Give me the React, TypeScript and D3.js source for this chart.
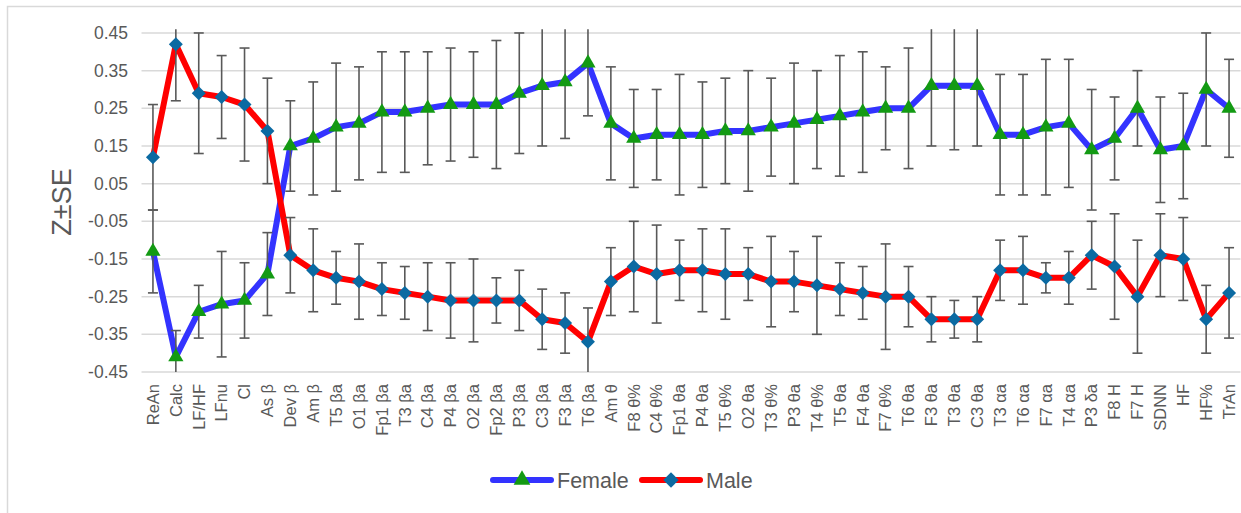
import React from "react";
import * as d3 from "d3";

const categories = [
  "ReAn", "Calc", "LF/HF", "LFnu", "Cl", "As β", "Dev β", "Am β", "T5 βa", "O1 βa",
  "Fp1 βa", "T3 βa", "C4 βa", "P4 βa", "O2 βa", "Fp2 βa", "P3 βa", "C3 βa", "F3 βa", "T6 βa",
  "Am θ", "F8 θ%", "C4 θ%", "Fp1 θa", "P4 θa", "T5 θ%", "O2 θa", "T3 θ%", "P3 θa", "T4 θ%",
  "T5 θa", "F4 θa", "F7 θ%", "T6 θa", "F3 θa", "T3 θa", "C3 θa", "T3 αa", "T6 αa", "F7 αa",
  "T4 αa", "P3 δa", "F8 H", "F7 H", "SDNN", "HF", "HF%", "TrAn",
];

const femaleValues = [
  -0.13, -0.41, -0.29, -0.27, -0.26, -0.19, 0.15, 0.17, 0.2, 0.21,
  0.24, 0.24, 0.25, 0.26, 0.26, 0.26, 0.29, 0.31, 0.32, 0.37,
  0.21, 0.17, 0.18, 0.18, 0.18, 0.19, 0.19, 0.2, 0.21, 0.22,
  0.23, 0.24, 0.25, 0.25, 0.31, 0.31, 0.31, 0.18, 0.18, 0.2,
  0.21, 0.14, 0.17, 0.25, 0.14, 0.15, 0.3, 0.25,
];
const femaleErrors = [
  0.11, 0.07, 0.07, 0.14, 0.1, 0.11, 0.12, 0.15, 0.17, 0.15,
  0.16, 0.16, 0.15, 0.15, 0.14, 0.17, 0.16, 0.16, 0.15, 0.14,
  0.15, 0.13, 0.12, 0.16, 0.14, 0.14, 0.16, 0.13, 0.16, 0.13,
  0.16, 0.16, 0.11, 0.16, 0.16, 0.17, 0.16, 0.16, 0.16, 0.18,
  0.17, 0.16, 0.11, 0.1, 0.14, 0.14, 0.15, 0.13,
];
const maleValues = [
  0.12, 0.42, 0.29, 0.28, 0.26, 0.19, -0.14, -0.18, -0.2, -0.21,
  -0.23, -0.24, -0.25, -0.26, -0.26, -0.26, -0.26, -0.31, -0.32, -0.37,
  -0.21, -0.17, -0.19, -0.18, -0.18, -0.19, -0.19, -0.21, -0.21, -0.22,
  -0.23, -0.24, -0.25, -0.25, -0.31, -0.31, -0.31, -0.18, -0.18, -0.2,
  -0.2, -0.14, -0.17, -0.25, -0.14, -0.15, -0.31, -0.24,
];
const maleErrors = [
  0.14, 0.15, 0.16, 0.11, 0.15, 0.14, 0.1, 0.11, 0.07, 0.1,
  0.07, 0.07, 0.09, 0.1, 0.11, 0.06, 0.08, 0.08, 0.08, 0.09,
  0.09, 0.12, 0.13, 0.08, 0.11, 0.12, 0.07, 0.12, 0.08, 0.13,
  0.07, 0.07, 0.14, 0.08, 0.06, 0.05, 0.06, 0.08, 0.09, 0.04,
  0.07, 0.09, 0.14, 0.15, 0.11, 0.11, 0.09, 0.12,
];
const yTicks = [0.45, 0.35, 0.25, 0.15, 0.05, -0.05, -0.15, -0.25, -0.35, -0.45];
const seriesNames = ["Female", "Male"];

const W = 1241;
const H = 513;
const FONT = "'Liberation Sans', Arial, sans-serif";
const TEXT = "#595959";

export default function App() {
  const x = d3.scalePoint<string>().domain(categories).range([141.5, 1240.5]).padding(0.5);
  const y = d3.scaleLinear().domain([-0.45, 0.46]).range([372, 29.2]);
  const yTop = y(0.46);
  const yBot = y(-0.45);
  const clip = (v: number) => Math.max(yTop, Math.min(yBot, v));

  const line = d3
    .line<number>()
    .x((_, i) => x(categories[i]) as number)
    .y((d) => y(d));

  const tri = d3.symbol().type(d3.symbolTriangle).size(100)() as string;
  const dia = d3.symbol().type(d3.symbolSquare).size(98)() as string;

  const series = [
    { name: seriesNames[0], values: femaleValues, errors: femaleErrors, stroke: "#3333ff", marker: tri, fill: "#139a13", rot: 0 },
    { name: seriesNames[1], values: maleValues, errors: maleErrors, stroke: "#ff0000", marker: dia, fill: "#0b6aa2", rot: 45 },
  ];

  return (
    <div style={{ position: "absolute", left: 0, top: 0 }}>
      <svg width={W} height={H} style={{ display: "block", background: "#fff" }}>
        <rect x={7.5} y={6.5} width={1240} height={520} fill="#fff" stroke="#d9d9d9" strokeWidth={1.5} />
        {yTicks.map((t) => (
          <g key={t}>
            <line x1={141.5} x2={1240.5} y1={y(t)} y2={y(t)} stroke="#d9d9d9" strokeWidth={1.5} />
            <text x={128} y={y(t)} dy="0.35em" textAnchor="end" fontFamily={FONT} fontSize={17.5} fill={TEXT}>
              {t.toFixed(2)}
            </text>
          </g>
        ))}
        <text
          transform={`translate(71,202) rotate(-90)`}
          textAnchor="middle"
          fontFamily={FONT}
          fontSize={27}
          fill={TEXT}
        >
          Z±SE
        </text>
        {categories.map((c) => (
          <text
            key={c}
            transform={`translate(${x(c)},384) rotate(-90)`}
            textAnchor="end"
            dy="0.35em"
            fontFamily={FONT}
            fontSize={16.5}
            fill={TEXT}
          >
            {c}
          </text>
        ))}
        {series.map((s) => (
          <g key={s.name}>
            <path d={line(s.values) as string} fill="none" stroke={s.stroke} strokeWidth={6} strokeLinejoin="round" />
            {s.values.map((v, i) => {
              const cx = x(categories[i]) as number;
              const t = clip(y(v + s.errors[i]));
              const b = clip(y(v - s.errors[i]));
              return (
                <g key={i} stroke="#595959" strokeWidth={1.6}>
                  <line x1={cx} x2={cx} y1={t} y2={b} />
                  {y(v + s.errors[i]) >= yTop && <line x1={cx - 5} x2={cx + 5} y1={t} y2={t} />}
                  {y(v - s.errors[i]) <= yBot && <line x1={cx - 5} x2={cx + 5} y1={b} y2={b} />}
                </g>
              );
            })}
            {s.values.map((v, i) => (
              <path
                key={i}
                d={s.marker}
                transform={`translate(${x(categories[i])},${y(v)}) rotate(${s.rot})`}
                fill={s.fill}
              />
            ))}
          </g>
        ))}
        {series.map((s, k) => {
          const x0 = k === 0 ? 493 : 642;
          return (
            <g key={s.name}>
              <line x1={x0} x2={x0 + 58} y1={480} y2={480} stroke={s.stroke} strokeWidth={6} strokeLinecap="round" />
              <path d={s.marker} transform={`translate(${x0 + 29},480) rotate(${s.rot}) scale(1.1)`} fill={s.fill} />
              <text x={x0 + 64} y={480} dy="0.35em" fontFamily={FONT} fontSize={21.5} fill={TEXT}>
                {s.name}
              </text>
            </g>
          );
        })}
      </svg>
    </div>
  );
}
